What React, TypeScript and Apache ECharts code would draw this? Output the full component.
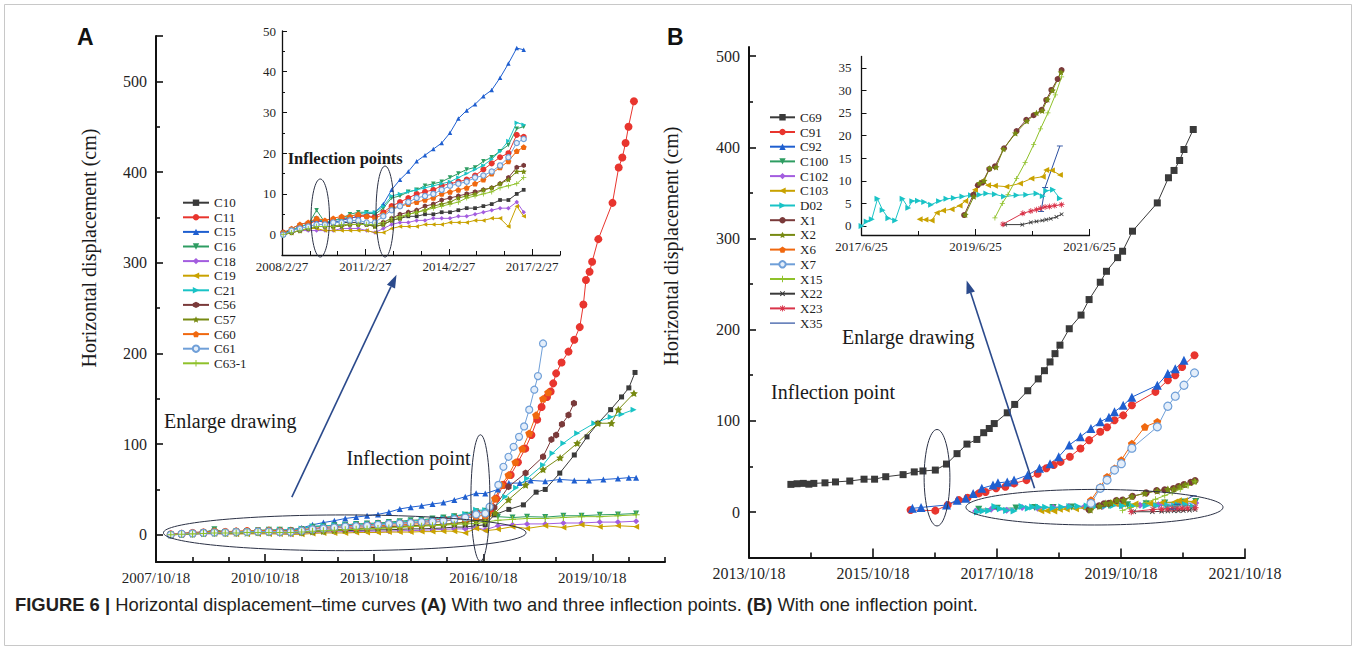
import React, { useEffect, useRef } from 'react';
import * as echarts from 'echarts';

const SERIF = 'Liberation Serif, Times New Roman, serif';
const SANS = 'Liberation Sans, Arial, sans-serif';

// ---------- tick labels ----------
const A_X_LABELS = ['2007/10/18', '2010/10/18', '2013/10/18', '2016/10/18', '2019/10/18'];
const A_X_END = '2021/10/18';
const A_Y_LABELS = [0, 100, 200, 300, 400, 500];
const A_INSET_X_LABELS = ['2008/2/27', '2011/2/27', '2014/2/27', '2017/2/27'];
const A_INSET_X_END = '2018/2/27';
const A_INSET_Y_LABELS = [0, 10, 20, 30, 40, 50];
const B_X_LABELS = ['2013/10/18', '2015/10/18', '2017/10/18', '2019/10/18', '2021/10/18'];
const B_X_END = '2021/10/18';
const B_Y_LABELS = [0, 100, 200, 300, 400, 500];
const B_INSET_X_LABELS = ['2017/6/25', '2019/6/25', '2021/6/25'];
const B_INSET_X_END = '2021/6/25';
const B_INSET_Y_LABELS = [0, 5, 10, 15, 20, 25, 30, 35];

// ---------- panel A data (decimal year, cm) ----------
const A_EARLY_YEARS = [2008.2, 2008.5, 2008.8, 2009.1, 2009.4, 2009.7, 2010.0, 2010.3, 2010.6, 2010.9, 2011.2, 2011.5, 2011.8, 2012.1, 2012.4, 2012.7, 2013.0, 2013.3, 2013.6, 2013.9, 2014.2, 2014.5, 2014.8, 2015.1, 2015.4, 2015.7, 2016.0, 2016.3, 2016.6, 2016.85];

const C10_EARLY = [0, 1, 2, 2.5, 4, 3, 3, 3, 3, 3, 2.5, 2, 2.5, 3.5, 4, 4.5, 4.5, 5, 5, 5.5, 5.5, 6, 6.5, 6.5, 7, 7.5, 8.5, 8.5, 10, 11];
const C11_EARLY = [0.5, 1, 2, 2.5, 3.5, 3, 3.5, 4, 4, 4.5, 4.5, 4.5, 5.5, 7, 8, 9, 10, 10.5, 11, 12, 12.5, 13, 13.5, 14.5, 16, 17.5, 19, 20, 24.5, 24];
const C15_EARLY = [0, 1.5, 2.5, 3, 3.5, 3, 3, 3.5, 4, 4.5, 5, 5.5, 7.5, 11, 13.5, 15.5, 18, 19.5, 21, 22.5, 25, 28.5, 30.5, 32, 34, 35.5, 38.5, 42, 45.8, 45.4];
const C16_EARLY = [0.5, 1, 2, 2.5, 6, 3, 3.5, 4, 5, 5.5, 5.5, 5, 6.5, 9, 9.5, 10.5, 11, 12, 12.5, 13, 14, 15, 16, 16.5, 18, 19, 20.5, 22, 26, 26.5];
const C18_EARLY = [0, 0.5, 1, 1, 1, 1, 1, 1.5, 1.5, 1.5, 1, 0.5, 1.5, 2.5, 3, 3, 3.5, 3.5, 4, 4, 4, 4.5, 4.5, 5, 5.5, 6, 6.5, 6.5, 8, 5.5];
const C19_EARLY = [0, 0.5, 1, 1.5, 1.5, 1, 1, 1, 1, 1, 1, 0.5, 0.5, 1.5, 2, 2, 2, 2.5, 2.5, 2.5, 3, 3, 3, 3.5, 3.5, 4, 4, 2, 7, 4.5];
const C21_EARLY = [0, 1, 2, 2.5, 4, 3, 3.5, 3.8, 4.5, 5, 5.5, 5.5, 7, 9.5, 10, 10.5, 11, 11.5, 12, 12.5, 13, 14, 15, 16, 17, 18.5, 20.5, 23, 27.5, 27];
const C56_EARLY = [0, 0.5, 1, 1.5, 2, 2, 2, 2.5, 2.5, 2.5, 2.5, 2.5, 3, 4, 5, 5.5, 6, 7, 7.5, 8.5, 9, 9.5, 10, 10.5, 11, 11.5, 12.5, 14, 16.5, 17];
const C57_EARLY = [0, 0.5, 1, 1.5, 2, 2, 2, 2, 2.5, 2.5, 2.5, 2, 2.5, 3.5, 4, 5, 5.5, 6, 7, 7.5, 8, 9, 9.5, 10, 11, 11.5, 12.5, 13.5, 15.5, 15.5];
const C60_EARLY = [0.5, 1.5, 2.5, 3, 4, 3.5, 4, 4.5, 4.5, 5, 4.5, 4, 5, 6.5, 7, 7.5, 8, 8.5, 9, 10, 10.5, 11, 11.5, 12.5, 13.5, 15, 16.5, 18, 20.5, 21.5];
const C61_EARLY = [0, 1, 1.5, 2, 2.5, 2.5, 3, 3, 3.5, 3.5, 3, 3, 4.5, 6, 7, 8, 9, 9.5, 10, 11, 12, 12.5, 13, 14, 14.5, 15.5, 17, 19, 22.5, 23.5];
const C63_EARLY = [0, 0.5, 1, 1.5, 2, 2, 2, 2.5, 2.5, 2.5, 2.5, 2.5, 3, 4, 4.5, 5, 5.5, 6, 6.5, 7, 7.5, 8, 9, 9.5, 10, 10.5, 11.5, 12, 12.5, 14];

const C10_LATE = [[2017.1, 22], [2017.5, 28], [2017.9, 33], [2018.25, 47], [2018.5, 50], [2018.9, 68], [2019.3, 88], [2019.65, 108], [2019.95, 123], [2020.3, 138], [2020.6, 152], [2020.8, 162], [2020.97, 179]];
const C11_LATE = [[2017.0, 28], [2017.15, 40], [2017.35, 55], [2017.55, 66], [2017.75, 80], [2017.95, 95], [2018.12, 110], [2018.28, 127], [2018.4, 141], [2018.55, 152], [2018.65, 158], [2018.72, 167], [2018.8, 178], [2018.95, 190], [2019.14, 202], [2019.3, 215], [2019.45, 229], [2019.55, 254], [2019.62, 281], [2019.72, 290], [2019.79, 301], [2019.96, 326], [2020.35, 366], [2020.52, 405], [2020.62, 416], [2020.71, 432], [2020.79, 450], [2020.94, 478]];
const C15_LATE = [[2017.2, 50], [2017.5, 57], [2017.8, 57], [2018.1, 60], [2018.5, 59], [2018.9, 61], [2019.3, 60], [2019.7, 60], [2020.1, 61], [2020.5, 62], [2020.8, 63], [2021.0, 63]];
const C16_LATE = [[2017.2, 20], [2017.6, 19], [2018.0, 20], [2018.5, 19.5], [2019.0, 21], [2019.5, 21], [2020.0, 22], [2020.5, 22.5], [2021.0, 23.5]];
const C18_LATE = [[2017.2, 10], [2017.6, 11], [2018.0, 12], [2018.5, 12], [2019.0, 13], [2019.5, 13], [2020.0, 14], [2020.5, 14], [2021.0, 15]];
const C19_LATE = [[2017.2, 6], [2017.6, 9], [2018.0, 7], [2018.5, 10], [2019.0, 8], [2019.5, 11], [2020.0, 9], [2020.5, 10], [2021.0, 9]];
const C21_LATE = [[2017.1, 30], [2017.4, 42], [2017.7, 52], [2018.0, 62], [2018.44, 77], [2018.7, 90], [2019.0, 101], [2019.38, 112], [2019.85, 123], [2020.3, 130], [2020.6, 133], [2020.93, 138]];
const C56_LATE = [[2017.1, 30], [2017.49, 53], [2017.96, 68], [2018.44, 86], [2018.67, 105], [2018.8, 110], [2018.96, 122], [2019.14, 132], [2019.29, 145]];
const C57_LATE = [[2017.12, 24], [2017.49, 38.6], [2017.96, 55], [2018.44, 72], [2018.91, 85], [2019.38, 101], [2019.95, 123], [2020.32, 123], [2020.51, 138], [2020.94, 156]];
const C60_LATE = [[2016.93, 24], [2017.12, 40], [2017.3, 55], [2017.49, 66], [2017.68, 80], [2017.87, 95], [2018.06, 112], [2018.25, 132], [2018.44, 150], [2018.58, 157]];
const C61_LATE = [[2016.97, 31], [2017.21, 55], [2017.35, 75], [2017.49, 86], [2017.63, 97], [2017.78, 108], [2017.92, 119.5], [2018.06, 138], [2018.2, 160], [2018.3, 175], [2018.44, 211]];
const C63_LATE = [[2017.2, 16], [2017.6, 17], [2018.0, 18], [2018.5, 18], [2019.0, 19], [2019.5, 20], [2020.0, 20], [2020.5, 21], [2021.0, 22]];

// ---------- panel B data ----------
const C69 = [[2014.47, 30.3], [2014.57, 31], [2014.67, 31.4], [2014.76, 30.5], [2014.84, 31.4], [2015.02, 32], [2015.19, 33], [2015.42, 34], [2015.65, 36], [2015.82, 36], [2016.0, 38.7], [2016.28, 41], [2016.46, 44], [2016.6, 45], [2016.8, 46], [2016.98, 52.6], [2017.15, 64], [2017.31, 74.5], [2017.47, 79.6], [2017.58, 87], [2017.67, 91.6], [2017.75, 97], [2017.96, 108.8], [2018.08, 118], [2018.29, 133], [2018.46, 146], [2018.56, 155], [2018.65, 164.6], [2018.73, 173.7], [2018.81, 183], [2018.96, 201], [2019.15, 216], [2019.28, 233], [2019.46, 252], [2019.56, 264], [2019.74, 279], [2019.82, 286], [2019.98, 308], [2020.38, 339], [2020.56, 366.6], [2020.65, 374.6], [2020.74, 385.5], [2020.81, 397.6], [2020.96, 419.5]];
const C91 = [[2016.4, 2.2], [2016.8, 1.5], [2017.0, 7.7], [2017.18, 13], [2017.32, 15.7], [2017.5, 20.4], [2017.61, 22], [2017.78, 26], [2017.93, 27.7], [2018.07, 31.4], [2018.27, 35], [2018.45, 42], [2018.59, 48], [2018.71, 51.5], [2018.82, 55], [2018.97, 60.6], [2019.14, 69.7], [2019.28, 78.8], [2019.46, 88], [2019.57, 93], [2019.69, 100.7], [2019.83, 106], [2019.97, 117], [2020.35, 131.8], [2020.55, 144.5], [2020.67, 150], [2020.78, 159], [2020.98, 172]];
const C92 = [[2016.43, 4], [2016.57, 5], [2016.98, 7.7], [2017.15, 13], [2017.29, 15], [2017.41, 20.4], [2017.55, 26], [2017.73, 29.5], [2017.81, 32], [2017.96, 33], [2018.07, 35], [2018.29, 40.5], [2018.48, 48], [2018.65, 53], [2018.79, 60.6], [2018.96, 73.4], [2019.14, 82.5], [2019.31, 91.6], [2019.46, 99], [2019.6, 104], [2019.69, 110], [2019.83, 117], [2019.97, 126], [2020.38, 139], [2020.55, 151.8], [2020.67, 157], [2020.81, 166.4]];
const C100 = [[2017.5, 3], [2017.8, 4], [2018.1, 4.5], [2018.4, 5], [2018.7, 5], [2019.0, 5.5], [2019.3, 6], [2019.6, 7], [2019.9, 8], [2020.2, 9], [2020.5, 10], [2020.8, 11], [2021.0, 11.5]];
const C102 = [[2017.45, 1], [2017.7, 3], [2017.95, 2], [2018.2, 5], [2018.45, 4], [2018.7, 5], [2018.95, 6], [2019.2, 5.5], [2019.5, 6], [2019.8, 7], [2020.1, 7.5], [2020.4, 8], [2020.7, 9], [2021.0, 10]];
const C103 = [[2018.5, 1.5], [2018.6, 1.4], [2018.71, 1.2], [2018.8, 2.9], [2018.91, 3.4], [2019.06, 3.7], [2019.2, 4.5], [2019.3, 5.5], [2019.47, 8], [2019.6, 10], [2019.7, 9], [2019.82, 8.9], [2020.02, 8.7], [2020.26, 9.4], [2020.46, 10.5], [2020.66, 10.9], [2020.72, 12.4], [2020.82, 12.3], [2020.96, 11.3]];
const D02 = [[2017.48, 0], [2017.57, 1], [2017.66, 1.5], [2017.76, 6], [2017.85, 3.5], [2017.95, 1.7], [2018.07, 1.2], [2018.2, 6], [2018.3, 4], [2018.37, 5.5], [2018.47, 5.6], [2018.58, 5.3], [2018.7, 4.7], [2018.84, 5.5], [2018.97, 6], [2019.1, 6.2], [2019.25, 6.5], [2019.4, 6.8], [2019.55, 6.9], [2019.67, 7.2], [2019.82, 7], [2019.98, 6.5], [2020.2, 6.8], [2020.37, 6.9], [2020.55, 7.2], [2020.66, 6.6], [2020.72, 7.8], [2020.84, 8], [2020.96, 6.1]];
const X1 = [[2019.28, 2.4], [2019.44, 6.9], [2019.52, 9], [2019.6, 9.6], [2019.72, 12.6], [2019.82, 13.2], [2019.98, 17.2], [2020.2, 21], [2020.37, 23.5], [2020.5, 24.5], [2020.64, 25.7], [2020.72, 27.9], [2020.81, 30.1], [2020.92, 32.5], [2020.99, 34.5]];
const X2 = [[2019.3, 2.5], [2019.45, 6.5], [2019.55, 9.5], [2019.63, 10], [2019.73, 12.8], [2019.84, 13], [2019.97, 17], [2020.18, 20.5], [2020.38, 23.2], [2020.55, 25], [2020.65, 25.5], [2020.74, 28], [2020.83, 30], [2020.98, 34]];
const X6 = [[2019.31, 13], [2019.46, 27.7], [2019.57, 38.7], [2019.69, 47.8], [2019.8, 57], [2019.97, 75], [2020.18, 93.4], [2020.38, 99]];
const X7 = [[2019.31, 9.5], [2019.46, 26], [2019.57, 35], [2019.69, 46], [2019.8, 53], [2019.97, 70], [2020.38, 93.4], [2020.55, 116], [2020.67, 127], [2020.81, 139], [2020.98, 152.6]];
const X15 = [[2019.82, 1.8], [2019.95, 5], [2020.05, 7], [2020.2, 10.5], [2020.35, 14], [2020.5, 18], [2020.62, 21.5], [2020.75, 25], [2020.88, 29], [2020.99, 33]];
const X22 = [[2020.0, 0.3], [2020.3, 0.3], [2020.45, 0.8], [2020.55, 1], [2020.65, 1.2], [2020.72, 1.4], [2020.8, 1.6], [2020.9, 2], [2020.99, 2.6]];
const X23 = [[2019.96, 0.4], [2020.31, 2.8], [2020.45, 3.3], [2020.55, 3.6], [2020.62, 3.9], [2020.7, 4.2], [2020.78, 4.3], [2020.87, 4.5], [2020.99, 4.7]];
const X35 = [[2020.63, 3.2], [2020.7, 8.5], [2020.96, 17.7]];

// ---------- symbols ----------
const STAR = 'path://M0,-10L2.94,-4.05L9.51,-3.09L4.76,1.55L5.88,8.09L0,5L-5.88,8.09L-4.76,1.55L-9.51,-3.09L-2.94,-4.05Z';
const PENT = 'path://M0,-10L9.51,-3.09L5.88,8.09L-5.88,8.09L-9.51,-3.09Z';
const HEX = 'path://M0,-10L8.66,-5L8.66,5L0,10L-8.66,5L-8.66,-5Z';
const PLUS = 'path://M-1.5,-10H1.5V-1.5H10V1.5H1.5V10H-1.5V1.5H-10V-1.5H-1.5Z';
const ASTER = 'path://M-1.3,-10H1.3V-1.3H10V1.3H1.3V10H-1.3V1.3H-10V-1.3H-1.3Z M-7.9,-6.1L-6.1,-7.9L7.9,6.1L6.1,7.9Z M6.1,-7.9L7.9,-6.1L-6.1,7.9L-7.9,6.1Z';
const DASH = 'path://M-10,-1.5H10V1.5H-10Z';
const LINE_ICON = 'path://M0,4.4H25V5.6H0Z';

type Def = { name: string; color: string; symbol: string; size: number; rotate?: number; fill?: string; lineIcon?: boolean };

const A_DEFS: (Def & { early: number[]; late: number[][] })[] = [
  { name: 'C10', early: C10_EARLY, late: C10_LATE, color: '#3a3a3a', symbol: 'rect', size: 5 },
  { name: 'C11', early: C11_EARLY, late: C11_LATE, color: '#e8352e', symbol: 'circle', size: 8 },
  { name: 'C15', early: C15_EARLY, late: C15_LATE, color: '#1f5fd0', symbol: 'triangle', size: 6 },
  { name: 'C16', early: C16_EARLY, late: C16_LATE, color: '#2e9d62', symbol: 'triangle', size: 6, rotate: 180 },
  { name: 'C18', early: C18_EARLY, late: C18_LATE, color: '#a35ddf', symbol: 'diamond', size: 6 },
  { name: 'C19', early: C19_EARLY, late: C19_LATE, color: '#c9a200', symbol: 'triangle', size: 6, rotate: 90 },
  { name: 'C21', early: C21_EARLY, late: C21_LATE, color: '#19c3c6', symbol: 'triangle', size: 6, rotate: -90 },
  { name: 'C56', early: C56_EARLY, late: C56_LATE, color: '#7a3a3a', symbol: HEX, size: 7 },
  { name: 'C57', early: C57_EARLY, late: C57_LATE, color: '#778a12', symbol: STAR, size: 8 },
  { name: 'C60', early: C60_EARLY, late: C60_LATE, color: '#f0680f', symbol: PENT, size: 8 },
  { name: 'C61', early: C61_EARLY, late: C61_LATE, color: '#6f9fd8', symbol: 'circle', size: 7, fill: '#e4eefa' },
  { name: 'C63-1', early: C63_EARLY, late: C63_LATE, color: '#8fc12a', symbol: PLUS, size: 7 },
];

const B_DEFS: (Def & { data: number[][]; inset: boolean })[] = [
  { name: 'C69', data: C69, inset: false, color: '#3a3a3a', symbol: 'rect', size: 7 },
  { name: 'C91', data: C91, inset: false, color: '#e8352e', symbol: 'circle', size: 8 },
  { name: 'C92', data: C92, inset: false, color: '#1f5fd0', symbol: 'triangle', size: 9 },
  { name: 'C100', data: C100, inset: false, color: '#2e9d62', symbol: 'triangle', size: 7, rotate: 180 },
  { name: 'C102', data: C102, inset: false, color: '#a35ddf', symbol: 'diamond', size: 7 },
  { name: 'C103', data: C103, inset: true, color: '#c9a200', symbol: 'triangle', size: 7, rotate: 90 },
  { name: 'D02', data: D02, inset: true, color: '#19c3c6', symbol: 'triangle', size: 7, rotate: -90 },
  { name: 'X1', data: X1, inset: true, color: '#7a3a3a', symbol: 'circle', size: 7 },
  { name: 'X2', data: X2, inset: true, color: '#778a12', symbol: STAR, size: 8 },
  { name: 'X6', data: X6, inset: false, color: '#f0680f', symbol: PENT, size: 8 },
  { name: 'X7', data: X7, inset: false, color: '#6f9fd8', symbol: 'circle', size: 8, fill: '#e4eefa' },
  { name: 'X15', data: X15, inset: true, color: '#8fc12a', symbol: PLUS, size: 6 },
  { name: 'X22', data: X22, inset: true, color: '#3a3a3a', symbol: PLUS, size: 6, rotate: 45 },
  { name: 'X23', data: X23, inset: true, color: '#d9344a', symbol: ASTER, size: 7 },
  { name: 'X35', data: X35, inset: true, color: '#2b4fa0', symbol: DASH, size: 7, lineIcon: true },
];

// ---------- helpers ----------
function toYear(s: string): number {
  const [y, m, d] = s.split('/').map(Number);
  const doy = (Date.UTC(y, m - 1, d) - Date.UTC(y, 0, 1)) / 86400000;
  return y + doy / 365;
}

const AX = '#111';
const LABEL = '#1f1f1f';

function xAxisPair(grid: number, labels: string[], endLabel: string, fs: number, lw: number, majLen: number, minLen: number, margin: number) {
  const majors = labels.map(toYear);
  const min = majors[0];
  const max = toYear(endLabel);
  const minors: number[] = [];
  for (let v = min + 1; v <= max + 1e-6; v += 1) {
    if (!majors.some((m) => Math.abs(m - v) < 0.01)) minors.push(v);
  }
  const fmt = (v: number) => {
    const i = majors.findIndex((m) => Math.abs(m - v) < 0.01);
    return i >= 0 ? labels[i] : '';
  };
  return [
    {
      type: 'value', gridIndex: grid, min, max, position: 'bottom',
      axisLine: { show: true, onZero: false, lineStyle: { color: AX, width: lw } },
      axisTick: { show: true, inside: true, length: majLen, customValues: majors, lineStyle: { color: AX, width: lw * 0.8 } },
      axisLabel: { show: true, customValues: majors, formatter: fmt, fontFamily: SERIF, fontSize: fs, color: LABEL, margin },
      splitLine: { show: false },
    },
    {
      type: 'value', gridIndex: grid, min, max, position: 'bottom',
      axisLine: { show: false, onZero: false },
      axisTick: { show: true, inside: true, length: minLen, customValues: minors, lineStyle: { color: AX, width: lw * 0.8 } },
      axisLabel: { show: false },
      splitLine: { show: false },
    },
  ];
}

function yAxisPair(grid: number, min: number, max: number, labels: number[], majors: number[], minors: number[], fs: number, lw: number, majLen: number, minLen: number, margin: number) {
  return [
    {
      type: 'value', gridIndex: grid, min, max, position: 'left',
      axisLine: { show: true, onZero: false, lineStyle: { color: AX, width: lw } },
      axisTick: { show: true, inside: true, length: majLen, customValues: majors, lineStyle: { color: AX, width: lw * 0.8 } },
      axisLabel: { show: true, customValues: labels, formatter: (v: number) => String(Math.round(v)), fontFamily: SERIF, fontSize: fs, color: LABEL, margin },
      splitLine: { show: false },
    },
    {
      type: 'value', gridIndex: grid, min, max, position: 'left',
      axisLine: { show: false, onZero: false },
      axisTick: { show: minors.length > 0, inside: true, length: minLen, customValues: minors, lineStyle: { color: AX, width: lw * 0.8 } },
      axisLabel: { show: false },
      splitLine: { show: false },
    },
  ];
}

function lineSeries(def: Def, data: number[][], xi: number, yi: number, scale: number) {
  return {
    type: 'line', name: def.name, xAxisIndex: xi, yAxisIndex: yi, data,
    symbol: def.symbol, symbolSize: def.size * scale, symbolRotate: def.rotate || 0,
    symbolKeepAspect: true, showAllSymbol: true, clip: true,
    itemStyle: { color: def.fill || def.color, borderColor: def.color, borderWidth: def.fill ? 1.2 : 0 },
    lineStyle: { color: def.color, width: 1 },
    emphasis: { disabled: true },
    animation: false,
  };
}

function legendData(defs: Def[]) {
  return defs.map((d) => (d.lineIcon ? { name: d.name, icon: LINE_ICON, itemStyle: { color: d.color } } : d.name));
}

function buildOption() {
  const xAxes = [
    ...xAxisPair(0, A_X_LABELS, A_X_END, 15, 2, 8, 5, 8),
    ...xAxisPair(1, A_INSET_X_LABELS, A_INSET_X_END, 13, 1.3, 6, 4, 5),
    ...xAxisPair(2, B_X_LABELS, B_X_END, 16, 2, 9, 5, 8),
    ...xAxisPair(3, B_INSET_X_LABELS, B_INSET_X_END, 13, 1.3, 6, 4, 5),
  ];
  const yAxes = [
    ...yAxisPair(0, -30, 550, A_Y_LABELS, [0, 100, 200, 300, 400, 500, 550], [50, 150, 250, 350, 450], 16, 2, 7, 4, 9),
    ...yAxisPair(1, -5, 50, A_INSET_Y_LABELS, A_INSET_Y_LABELS, [5, 15, 25, 35, 45], 13, 1.3, 5, 3, 6),
    ...yAxisPair(2, -50, 510, B_Y_LABELS, B_Y_LABELS, [50, 150, 250, 350, 450], 16, 2, 7, 4, 9),
    ...yAxisPair(3, -2, 37.5, B_INSET_Y_LABELS, B_INSET_Y_LABELS, [], 13, 1.3, 5, 3, 10),
  ];

  const series: any[] = [];
  A_DEFS.forEach((d) => {
    const early = d.early.map((v, i) => [A_EARLY_YEARS[i], v]);
    series.push(lineSeries(d, early.concat(d.late), 0, 0, 1));
  });
  A_DEFS.forEach((d) => {
    const early = d.early.map((v, i) => [A_EARLY_YEARS[i], v]);
    series.push(lineSeries(d, early, 2, 2, 0.75));
  });
  B_DEFS.forEach((d) => series.push(lineSeries(d, d.data, 4, 4, 1)));
  B_DEFS.filter((d) => d.inset).forEach((d) => series.push(lineSeries(d, d.data, 6, 6, 0.85)));

  const legendText = { fontFamily: SERIF, fontSize: 13, color: '#222', lineHeight: 14 };
  return {
    animation: false,
    backgroundColor: '#fff',
    grid: [
      { left: 156, top: 36, width: 509, height: 526 },
      { left: 282, top: 31, width: 278, height: 224 },
      { left: 749, top: 47, width: 496, height: 510.6 },
      { left: 861.5, top: 56.5, width: 228, height: 178.5 },
    ],
    xAxis: xAxes,
    yAxis: yAxes,
    legend: [
      { orient: 'vertical', left: 182, top: 195.7, itemWidth: 26, itemHeight: 8, itemGap: 0.6, padding: 0, selectedMode: false, data: legendData(A_DEFS), textStyle: legendText },
      { orient: 'vertical', left: 769, top: 110.3, itemWidth: 25, itemGap: 0.7, itemHeight: 8, padding: 0, selectedMode: false, data: legendData(B_DEFS), textStyle: legendText },
    ],
    series,
  };
}

function buildGraphics(chart: any) {
  const P = (g: number, x: number, y: number) => chart.convertToPixel({ gridIndex: g }, [x, y]) as number[];
  const ink = '#2b3145';
  const arrowInk = '#2b4a8c';
  const els: any[] = [];
  const ellipse = (g: number, cx: number, cy: number, rx: number, ry: number) => {
    const c = P(g, cx, cy);
    const e = P(g, cx + rx, cy + ry);
    els.push({ type: 'ellipse', silent: true, z: 50, shape: { cx: c[0], cy: c[1], rx: Math.abs(e[0] - c[0]), ry: Math.abs(e[1] - c[1]) }, style: { fill: 'transparent', stroke: ink, lineWidth: 1 } });
  };
  const arrow = (g: number, x0: number, y0: number, x1: number, y1: number) => {
    const a = P(g, x0, y0);
    const b = P(g, x1, y1);
    const dx = b[0] - a[0], dy = b[1] - a[1];
    const L = Math.hypot(dx, dy);
    const ux = dx / L, uy = dy / L;
    const hl = 13, hw = 4.5;
    const bx = b[0] - ux * hl, by = b[1] - uy * hl;
    els.push({ type: 'line', silent: true, z: 50, shape: { x1: a[0], y1: a[1], x2: bx, y2: by }, style: { stroke: arrowInk, lineWidth: 1.6 } });
    els.push({ type: 'polygon', silent: true, z: 50, shape: { points: [[b[0], b[1]], [bx - uy * hw, by + ux * hw], [bx + uy * hw, by - ux * hw]] }, style: { fill: arrowInk } });
  };
  const text = (g: number, x: number, y: number, t: string, size: number, weight = 'normal') => {
    const p = P(g, x, y);
    els.push({ type: 'text', silent: true, z: 60, x: p[0], y: p[1], style: { text: t, fontFamily: SERIF, fontSize: size, fontWeight: weight, fill: '#1a1a1a', align: 'center', verticalAlign: 'middle' } });
  };

  // panel A main
  ellipse(0, 2012.985, 2.2, 4.986, 19.7);
  ellipse(0, 2016.717, 40.5, 0.261, 69.8);
  arrow(0, 2011.53, 41.6, 2014.41, 286.7);
  text(0, 2009.836, 126, 'Enlarge drawing', 20);
  text(0, 2014.74, 84.6, 'Inflection point', 20);
  // panel A inset
  ellipse(1, 2009.532, 4.08, 0.331, 9.58);
  ellipse(1, 2011.863, 5.67, 0.324, 11.17);
  text(1, 2010.43, 18.7, 'Inflection points', 16.5, 'bold');
  // panel B main
  ellipse(2, 2016.827, 37.6, 0.208, 52.9);
  ellipse(2, 2019.367, 5.26, 2.073, 19.5);
  arrow(2, 2018.4, 26, 2017.305, 254);
  text(2, 2016.363, 192, 'Enlarge drawing', 20);
  text(2, 2015.15, 131.8, 'Inflection point', 20);

  // static texts
  els.push({ type: 'text', silent: true, x: 89, y: 248, rotation: Math.PI / 2, style: { text: 'Horizontal displacement (cm)', fontFamily: SERIF, fontSize: 20, fill: '#1a1a1a', align: 'center', verticalAlign: 'middle' } });
  els.push({ type: 'text', silent: true, x: 670.5, y: 246, rotation: Math.PI / 2, style: { text: 'Horizontal displacement (cm)', fontFamily: SERIF, fontSize: 20, fill: '#1a1a1a', align: 'center', verticalAlign: 'middle' } });
  els.push({ type: 'text', silent: true, x: 77, y: 37, style: { text: 'A', fontFamily: SANS, fontSize: 23, fontWeight: 'bold', fill: '#111', align: 'left', verticalAlign: 'middle' } });
  els.push({ type: 'text', silent: true, x: 667, y: 37, style: { text: 'B', fontFamily: SANS, fontSize: 23, fontWeight: 'bold', fill: '#111', align: 'left', verticalAlign: 'middle' } });
  els.push({
    type: 'text', silent: true, x: 15, y: 604,
    style: {
      text: '{b|FIGURE 6 |} Horizontal displacement\u2013time curves {b|(A)} With two and three inflection points. {b|(B)} With one inflection point.',
      fontFamily: SANS, fontSize: 18.4, fill: '#231f20', align: 'left', verticalAlign: 'middle',
      rich: { b: { fontFamily: SANS, fontSize: 18.4, fontWeight: 'bold', fill: '#231f20' } },
    },
  });
  els.push({ type: 'rect', silent: true, z: 0, shape: { x: 4.5, y: 4.5, width: 1347, height: 641 }, style: { fill: 'transparent', stroke: '#c8c8c8', lineWidth: 1 } });
  return els;
}

export default function App() {
  const ref = useRef<HTMLDivElement>(null);
  useEffect(() => {
    if (!ref.current) return;
    const chart = echarts.init(ref.current, null, { renderer: 'svg' });
    chart.setOption(buildOption() as any);
    chart.setOption({ graphic: { elements: buildGraphics(chart) } } as any);
    return () => chart.dispose();
  }, []);
  return <div ref={ref} style={{ position: 'absolute', left: 0, top: 0, width: 1356, height: 652, background: '#fff' }} />;
}
